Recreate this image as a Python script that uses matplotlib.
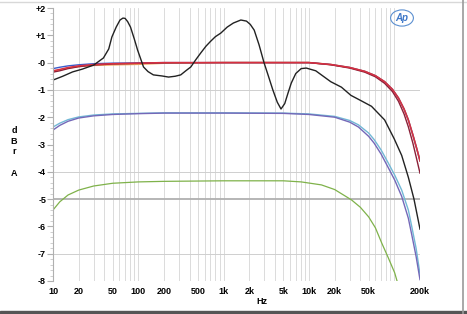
import matplotlib.pyplot as plt
from matplotlib.patches import Ellipse
from matplotlib.ticker import FixedLocator, NullFormatter

plt.rcParams['font.family'] = ['Liberation Sans', 'DejaVu Sans']

# tone-control response (black)
tone_f = [10, 13, 17, 22, 30, 39, 45, 49, 55, 61, 66, 70, 75, 81, 90, 98, 107,
          115, 130, 150, 190, 226, 270, 314, 360, 412, 470, 538, 620, 703, 800,
          925, 1100, 1300, 1590, 1850, 2050, 2280, 2600, 2970, 3350, 3770, 4250,
          4700, 5200, 5700, 6200, 7000, 8100, 9300, 12000, 18000, 24000, 31000,
          41000, 54000, 77000, 100000, 122000, 146000, 170000, 200000]
tone_db = [-0.64, -0.5, -0.34, -0.24, -0.09, 0.17, 0.5, 0.94, 1.3, 1.56, 1.63,
           1.62, 1.5, 1.3, 0.85, 0.46, 0.12, -0.16, -0.33, -0.45, -0.49, -0.53,
           -0.5, -0.45, -0.3, -0.16, 0.1, 0.35, 0.6, 0.78, 0.95, 1.08, 1.3, 1.45,
           1.56, 1.52, 1.4, 1.19, 0.65, 0.0, -0.5, -1.0, -1.45, -1.7, -1.5, -1.1,
           -0.75, -0.4, -0.22, -0.2, -0.3, -0.7, -0.9, -1.2, -1.4, -1.6, -2.1,
           -2.8, -3.4, -4.2, -5.0, -6.1]

# flat responses near 0 dB
flat_f = [10, 12, 15, 20, 30, 50, 100, 200, 1000, 10000, 18000, 30000, 45000,
          60000, 77000, 95000, 112000, 130000, 146000, 165000, 185000, 200000]
red_db = [-0.3, -0.25, -0.18, -0.12, -0.07, -0.04, -0.02, 0.0, 0.0, 0.0, -0.07,
          -0.18, -0.32, -0.48, -0.7, -0.98, -1.3, -1.7, -2.1, -2.65, -3.2, -3.6]
maroon_db = [-0.35, -0.3, -0.22, -0.15, -0.09, -0.05, -0.03, -0.01, 0.0, 0.0,
             -0.08, -0.2, -0.35, -0.52, -0.76, -1.06, -1.42, -1.88, -2.35,
             -2.95, -3.6, -4.05]
blue_db = [-0.22, -0.17, -0.12, -0.08, -0.04, -0.02, -0.01, 0.0, 0.0, 0.0,
           -0.07, -0.18, -0.32, -0.48, -0.7, -0.98, -1.3, -1.7, -2.1, -2.65,
           -3.2, -3.6]
orange_db = [-0.33, -0.27, -0.2, -0.14, -0.1, -0.08, -0.06, -0.02, 0.0, 0.0,
             -0.07, -0.18, -0.32, -0.48, -0.7, -0.98, -1.3, -1.7, -2.1, -2.65,
             -3.2, -3.6]

# responses near -1.9 dB
mid_f = [10, 12, 15, 20, 30, 50, 100, 200, 500, 1000, 5000, 10000, 20000,
         30000, 38000, 50000, 58000, 70000, 85000, 101000, 122000, 146000,
         160000, 180000, 200000]
purple_db = [-2.47, -2.3, -2.15, -2.03, -1.95, -1.9, -1.87, -1.85, -1.85, -1.85,
             -1.86, -1.9, -2.0, -2.18, -2.36, -2.7, -2.95, -3.35, -3.85, -4.3,
             -4.9, -5.7, -6.3, -7.1, -7.95]
cyan_db = [-2.36, -2.22, -2.09, -1.99, -1.92, -1.88, -1.86, -1.84, -1.84, -1.84,
           -1.85, -1.88, -1.97, -2.12, -2.28, -2.58, -2.82, -3.2, -3.68, -4.12,
           -4.67, -5.4, -6.0, -6.8, -7.75]

# response near -4.3 dB (green)
low_f = [10, 12, 15, 20, 30, 50, 100, 200, 1000, 5000, 8100, 14000, 20000,
         31500, 40000, 50000, 60000, 71000, 85000, 101000, 110000]
green_db = [-5.4, -5.1, -4.85, -4.67, -4.52, -4.42, -4.37, -4.35, -4.33, -4.33,
            -4.37, -4.48, -4.65, -5.03, -5.3, -5.65, -6.05, -6.6, -7.15, -7.7,
            -8.1]

x_ticks = [10, 20, 50, 100, 200, 500, 1000, 2000, 5000, 10000, 20000, 50000, 200000]
x_labels = ['10', '20', '50', '100', '200', '500', '1k', '2k', '5k', '10k',
            '20k', '50k', '200k']
y_ticks = [2, 1, 0, -1, -2, -3, -4, -5, -6, -7, -8]
y_labels = ['+2', '+1', '-0', '-1', '-2', '-3', '-4', '-5', '-6', '-7', '-8']

fig = plt.figure(figsize=(4.67, 3.14), dpi=100)
ax = fig.add_axes([53 / 467, 1 - 281 / 314, 367 / 467, 273 / 314])
ax.set_xscale('log')
ax.set_xlim(10, 200000)
ax.set_ylim(-8, 2)

# grid: every log minor vertically, a few horizontal lines
minors = [m * 10 ** d for d in range(1, 6) for m in range(1, 10)]
for f in minors:
    if 10 < f < 200000:
        ax.axvline(f, color='#d6d6d6', lw=0.6, zorder=0)
for yv in [-1, -4, -7]:
    ax.axhline(yv, color='#cfcfcf', lw=0.7, zorder=0)
ax.axhline(-5, color='#b0b0b0', lw=1.3, zorder=0)

# curves
ax.plot(low_f, green_db, color='#7fb24a', lw=0.9)
ax.plot(mid_f, cyan_db, color='#72b8d6', lw=1.0)
ax.plot(mid_f, purple_db, color='#7468b8', lw=1.0)
ax.plot(flat_f, orange_db, color='#f0a860', lw=1.2)
ax.plot(flat_f, blue_db, color='#3a5ccc', lw=1.0)
ax.plot(flat_f, maroon_db, color='#8a2038', lw=1.0)
ax.plot(flat_f, red_db, color='#d83040', lw=1.1)
ax.plot(tone_f, tone_db, color='#222222', lw=1.0)

# axes styling
for s in ['top', 'right', 'bottom']:
    ax.spines[s].set_visible(False)
ax.spines['left'].set_color('#b0b0b0')
ax.xaxis.set_major_locator(FixedLocator(x_ticks))
ax.xaxis.set_minor_formatter(NullFormatter())
ax.set_xticklabels(x_labels)
ax.tick_params(axis='x', which='both', length=0, labelsize=6.5, pad=4)
ax.set_yticks(y_ticks)
ax.set_yticklabels(y_labels)
ax.yaxis.set_minor_locator(FixedLocator([y / 5 for y in range(-40, 11)]))
ax.tick_params(axis='y', which='major', length=4, color='#b0b0b0',
               labelsize=6.5, pad=1)
ax.tick_params(axis='y', which='minor', length=2, color='#c8c8c8')
for lbl in ax.get_xticklabels() + ax.get_yticklabels():
    lbl.set_fontweight('bold')

fig.text(262 / 467, 1 - 301 / 314, 'Hz', ha='center', va='center',
         fontsize=6.5, fontweight='bold')
fig.text(14 / 467, 1 - 152 / 314, 'd\nB\nr\n\nA', ha='center', va='center',
         fontsize=6.5, fontweight='bold', linespacing=1.25)

# AP logo
ax_logo = fig.add_axes([390 / 467, 1 - 27 / 314, 24 / 467, 18 / 314])
ax_logo.axis('off')
ax_logo.set_xlim(0, 1)
ax_logo.set_ylim(0, 1)
ax_logo.add_patch(Ellipse((0.5, 0.5), 0.95, 0.9, fill=False,
                          edgecolor='#5b8fd0', lw=0.8))
ax_logo.text(0.5, 0.48, 'Ap', color='#3f78c8', fontsize=7, style='italic',
             fontweight='bold', ha='center', va='center')

# outer frame
fig.add_artist(plt.Line2D([0, 1], [1 - 2 / 314, 1 - 2 / 314],
                          color='#d8d8d8', lw=1.0))
fig.add_artist(plt.Line2D([463 / 467, 463 / 467], [0, 1],
                          color='#9a9a9a', lw=1.2))
fig.add_artist(plt.Rectangle((0, 0), 1, 3 / 314, color='#555555'))

fig.savefig('out.png', dpi=100)
